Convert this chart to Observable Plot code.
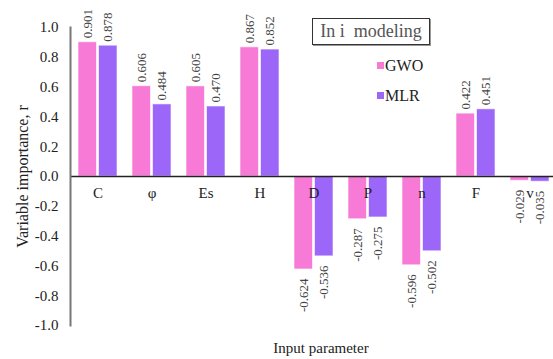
<!DOCTYPE html>
<html>
<head>
<meta charset="utf-8">
<script src="https://cdn.jsdelivr.net/npm/d3@7"></script>
<script src="https://cdn.jsdelivr.net/npm/@observablehq/plot@0.6"></script>
<style>
  html, body { margin: 0; padding: 0; background: #fff; }
  #wrap { position: relative; width: 553px; height: 359px; font-family: "Liberation Serif", serif; }
  #wrap svg { position: absolute; left: 0; top: 0; }
  #wrap svg text { font-family: "Liberation Serif", serif; }
  .title-box { position: absolute; left: 312px; top: 18px; width: 116px; height: 25px; border: 1.5px solid #333;
    box-shadow: 1px 1px 0 #999; font-size: 18px; color: #555; line-height: 25px; text-align: center; white-space: pre; }
  .leg { position: absolute; font-size: 16px; color: #222; line-height: 16px; }
  .leg span { display: inline-block; width: 7px; height: 7px; margin-right: 1px; vertical-align: 2px; }
  .xlabel { position: absolute; left: 221px; width: 200px; top: 340px; text-align: center; font-size: 15px; color: #222; }
</style>
</head>
<body>
<div id="wrap"></div>
<script>
const categories = ["C", "φ", "Es", "H", "D", "P", "n", "F", "v"];
const series = ["GWO", "MLR"];
const gwo = [0.901, 0.606, 0.605, 0.867, -0.624, -0.287, -0.596, 0.422, -0.029];
const mlr = [0.878, 0.484, 0.470, 0.852, -0.536, -0.275, -0.502, 0.451, -0.035];
const yTicks = [-1.0, -0.8, -0.6, -0.4, -0.2, 0.0, 0.2, 0.4, 0.6, 0.8, 1.0];
const titleText = "In i  modeling";
const yLabel = "Variable importance, r";
const xLabel = "Input parameter";

const colors = {GWO: "#f77ad6", MLR: "#9c66f8"};
const rows = categories.flatMap((c, i) => [
  {cat: c, series: "GWO", value: gwo[i]},
  {cat: c, series: "MLR", value: mlr[i]}
]);
const fmt = v => v.toFixed(3);
const inset = 20.5, off = 10.25;
const ff = '"Liberation Serif", serif';
const marks = [];
for (const s of series) {
  const d = rows.filter(r => r.series === s);
  const isG = s === "GWO";
  marks.push(Plot.barY(d, {x: "cat", y: "value", fill: colors[s], stroke: "#fff", strokeOpacity: 0.6, strokeWidth: 1,
    insetLeft: isG ? 0 : inset, insetRight: isG ? inset : 0}));
}
marks.push(Plot.ruleY([0], {stroke: "#222", strokeWidth: 1.5}));
marks.push(Plot.frame({anchor: "left", stroke: "#777", strokeWidth: 2}));
for (const s of series) {
  const isG = s === "GWO";
  const d = rows.filter(r => r.series === s);
  marks.push(Plot.text(d.filter(r => r.value >= 0), {x: "cat", y: "value", text: r => fmt(r.value), rotate: -90,
    textAnchor: "start", lineAnchor: "middle", dx: isG ? -off : off, dy: -4, fontSize: 13, fontFamily: ff, fill: "#444"}));
  marks.push(Plot.text(d.filter(r => r.value < 0), {x: "cat", y: "value", text: r => fmt(r.value), rotate: -90,
    textAnchor: "end", lineAnchor: "middle", dx: isG ? -off : off, dy: 9, fontSize: 13, fontFamily: ff, fill: "#444"}));
}
marks.push(Plot.text(categories, {x: d => d, y: 0, text: d => d, dy: 17, fontSize: 15, fontFamily: ff, fill: "#222"}));
marks.push(Plot.axisY({ticks: yTicks, tickSize: 0, tickPadding: 12, tickFormat: d => d.toFixed(1),
  label: null, fontSize: 15, fontFamily: ff}));
marks.push(Plot.text([yLabel], {frameAnchor: "left", rotate: -90, dx: -48, text: d => d,
  fontSize: 16, fontFamily: ff, fill: "#222", textAnchor: "middle", lineAnchor: "middle"}));

const chart = Plot.plot({
  width: 553,
  height: 359,
  marginTop: 27,
  marginBottom: 34,
  marginLeft: 70,
  marginRight: 0,
  style: {fontFamily: ff, fontSize: "15px", color: "#222", background: "#fff"},
  x: {domain: categories, range: [70, 556], paddingInner: 0.28, paddingOuter: 0.14, axis: null},
  y: {domain: [-1, 1], axis: null},
  marks
});
const wrap = document.getElementById("wrap");
wrap.appendChild(chart);
const tb = document.createElement("div");
tb.className = "title-box"; tb.textContent = titleText; wrap.appendChild(tb);
const legTops = [58, 88];
series.forEach((s, i) => {
  const l = document.createElement("div");
  l.className = "leg";
  l.style.left = "377px"; l.style.top = legTops[i] + "px";
  l.innerHTML = `<span style="background:${colors[s]}"></span>${s}`;
  wrap.appendChild(l);
});
const xl = document.createElement("div");
xl.className = "xlabel"; xl.textContent = xLabel; wrap.appendChild(xl);
</script>
</body>
</html>
